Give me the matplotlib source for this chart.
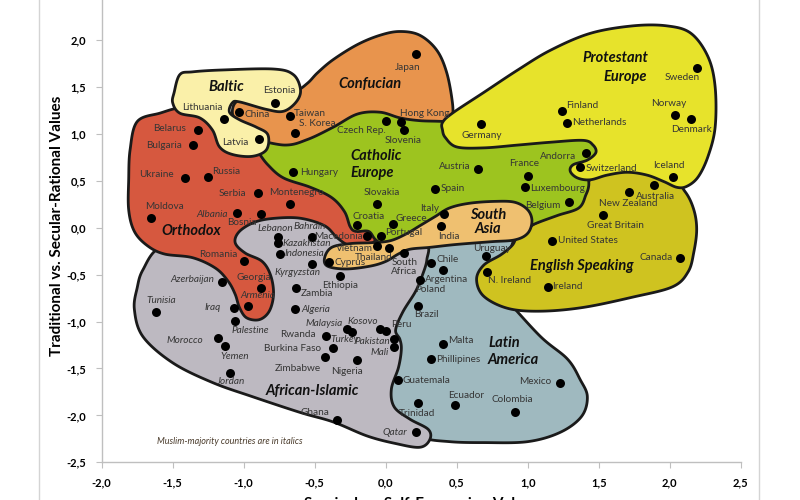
import numpy as np
import matplotlib
matplotlib.use('Agg')
import matplotlib.pyplot as plt
from matplotlib.patches import Polygon
from matplotlib.lines import Line2D
from matplotlib.ticker import FuncFormatter, MultipleLocator

plt.rcParams['font.family'] = ['Lato', 'DejaVu Sans']

# country scores
countries = [
    'Estonia', 'Lithuania', 'China', 'Taiwan', 'S. Korea', 'Latvia', 'Belarus', 'Bulgaria',
    'Ukraine', 'Russia', 'Hungary', 'Czech Rep.', 'Hong Kong', 'Slovenia', 'Japan', 'Germany',
    'Finland', 'Netherlands', 'Sweden', 'Norway', 'Denmark', 'Andorra', 'Switzerland', 'Iceland',
    'Austria', 'France', 'Luxembourg', 'Spain', 'Belgium', 'Australia', 'New Zealand',
    'Great Britain', 'United States', 'Canada', 'Ireland', 'N. Ireland', 'Uruguay', 'Italy',
    'India', 'Greece', 'Croatia', 'Slovakia', 'Portugal', 'Macedonia', 'Vietnam', 'Thailand',
    'South\nAfrica', 'Cyprus', 'Chile', 'Argentina', 'Poland', 'Brazil', 'Peru', 'Kosovo',
    'Malaysia', 'Turkey', 'Pakistan', 'Mali', 'Nigeria', 'Rwanda', 'Burkina Faso', 'Zimbabwe',
    'Ghana', 'Guatemala', 'Trinidad', 'Ecuador', 'Colombia', 'Qatar', 'Malta', 'Phillipines',
    'Mexico', 'Ethiopia', 'Zambia', 'Algeria', 'Kyrgyzstan', 'Indonesia', 'Kazakhstan',
    'Lebanon', 'Bahrain', 'Romania', 'Georgia', 'Armenia', 'Azerbaijan', 'Tunisia', 'Iraq',
    'Palestine', 'Morocco', 'Yemen', 'Jordan', 'Serbia', 'Montenegro', 'Moldova', 'Albania',
    'Bosnia',
]
self_expression = [
    -0.78, -1.14, -1.03, -0.675, -0.64, -0.89, -1.32, -1.36,
    -1.41, -1.25, -0.65, 0.0, 0.11, 0.13, 0.21, 0.67,
    1.24, 1.28, 2.19, 2.04, 2.15, 1.41, 1.37, 2.02,
    0.65, 1.0, 0.98, 0.35, 1.29, 1.89, 1.71,
    1.53, 1.17, 2.07, 1.14, 0.71, 0.705, 0.41,
    0.39, 0.05, -0.20, -0.06, -0.035, -0.13, -0.063, 0.02,
    0.13, -0.40, 0.32, 0.40, 0.24, 0.23, 0.0, -0.04,
    -0.275, -0.236, 0.06, 0.06, -0.205, -0.42, -0.37, -0.43,
    -0.34, 0.085, 0.23, 0.49, 0.91, 0.21, 0.40, 0.32,
    1.23, -0.32, -0.63, -0.64, -0.52, -0.745, -0.76,
    -0.755, -0.52, -1.0, -0.875, -0.97, -1.15, -1.615, -1.07,
    -1.06, -1.18, -1.13, -1.10, -0.90, -0.675, -1.65, -1.05,
    -0.875,
]
secular_rational = [
    1.33, 1.16, 1.23, 1.19, 1.01, 0.94, 1.04, 0.88,
    0.53, 0.54, 0.59, 1.14, 1.13, 1.04, 1.85, 1.10,
    1.245, 1.12, 1.705, 1.195, 1.155, 0.80, 0.645, 0.535,
    0.625, 0.555, 0.43, 0.41, 0.27, 0.45, 0.385,
    0.13, -0.14, -0.32, -0.63, -0.475, -0.305, 0.15,
    0.02, 0.04, 0.025, 0.25, -0.09, -0.09, -0.20, -0.215,
    -0.27, -0.365, -0.38, -0.45, -0.56, -0.83, -1.105, -1.085,
    -1.085, -1.115, -1.19, -1.27, -1.415, -1.155, -1.285, -1.375,
    -2.05, -1.62, -1.865, -1.89, -1.96, -2.18, -1.235, -1.40,
    -1.66, -0.52, -0.645, -0.865, -0.39, -0.28, -0.16,
    -0.095, -0.095, -0.36, -0.64, -0.835, -0.58, -0.90, -0.86,
    -0.99, -1.18, -1.265, -1.545, 0.365, 0.25, 0.10, 0.155,
    0.145,
]
muslim_majority = {
    'Albania', 'Lebanon', 'Kazakhstan', 'Bahrain', 'Indonesia', 'Kyrgyzstan', 'Azerbaijan',
    'Tunisia', 'Iraq', 'Palestine', 'Morocco', 'Yemen', 'Jordan', 'Algeria', 'Malaysia',
    'Turkey', 'Pakistan', 'Mali', 'Qatar', 'Armenia', 'Kosovo',
}

# label placement: offset in pixels (right, down) and alignment
label_pos = {
    'Estonia': (4, -12, 'center'), 'Lithuania': (-21, -11, 'center'), 'China': (5, 2, 'left'),
    'Taiwan': (4, -2, 'left'), 'S. Korea': (4, -9, 'left'), 'Latvia': (-11, 3, 'right'),
    'Belarus': (-12, -2, 'right'), 'Bulgaria': (-11, 0, 'right'), 'Ukraine': (-12, -3, 'right'),
    'Russia': (4, -5, 'left'), 'Hungary': (7, 0, 'left'), 'Czech Rep.': (-24, 10, 'center'),
    'Hong Kong': (-1, -8, 'left'), 'Slovenia': (-1, 10, 'center'), 'Japan': (-8, 13, 'center'),
    'Germany': (1, 11, 'center'), 'Finland': (4, -5, 'left'), 'Netherlands': (5, 0, 'left'),
    'Sweden': (-15, 10, 'center'), 'Norway': (-7, -12, 'center'), 'Denmark': (1, 10, 'center'),
    'Andorra': (-10, 4, 'right'), 'Switzerland': (5, 1, 'left'), 'Iceland': (-4, -12, 'center'),
    'Austria': (-7, -2, 'right'), 'France': (-4, -12, 'center'), 'Luxembourg': (5, 1, 'left'),
    'Spain': (5, -1, 'left'), 'Belgium': (-8, 3, 'right'), 'Australia': (1, 11, 'center'),
    'New Zealand': (0, 12, 'center'), 'Great Britain': (12, 10, 'center'),
    'United States': (6, 0, 'left'), 'Canada': (-7, 0, 'right'), 'Ireland': (5, 0, 'left'),
    'N. Ireland': (1, 8, 'left'), 'Uruguay': (6, -8, 'center'), 'Italy': (-5, -5, 'right'),
    'India': (8, 11, 'center'), 'Greece': (3, -5, 'left'), 'Croatia': (11, -9, 'center'),
    'Slovakia': (5, -12, 'center'), 'Portugal': (4, -4, 'left'), 'Macedonia': (-4, 0, 'right'),
    'Vietnam': (-4, 2, 'right'), 'Thailand': (-15, 10, 'center'), 'South\nAfrica': (0, 14, 'center'),
    'Cyprus': (6, 1, 'left'), 'Chile': (5, -4, 'left'), 'Argentina': (4, 10, 'center'),
    'Poland': (10, 9, 'center'), 'Brazil': (8, 9, 'center'), 'Peru': (5, -7, 'left'),
    'Kosovo': (-17, -8, 'center'), 'Malaysia': (-4, -6, 'right'), 'Turkey': (-8, 7, 'center'),
    'Pakistan': (-4, 2, 'right'), 'Mali': (-5, 6, 'right'), 'Nigeria': (-10, 11, 'center'),
    'Rwanda': (-10, -2, 'right'), 'Burkina Faso': (-12, 0, 'right'), 'Zimbabwe': (-4, 12, 'right'),
    'Ghana': (-22, -8, 'center'), 'Guatemala': (5, 1, 'left'), 'Trinidad': (-1, 11, 'center'),
    'Ecuador': (11, -10, 'center'), 'Colombia': (-3, -12, 'center'), 'Qatar': (-8, 0, 'right'),
    'Malta': (6, -3, 'left'), 'Phillipines': (5, 0, 'left'), 'Mexico': (-9, -2, 'right'),
    'Ethiopia': (0, 9, 'center'), 'Zambia': (4, 5, 'left'), 'Algeria': (7, 1, 'left'),
    'Kyrgyzstan': (-14, 8, 'center'), 'Indonesia': (5, 0, 'left'), 'Kazakhstan': (5, 1, 'left'),
    'Lebanon': (-3, -8, 'center'), 'Bahrain': (-2, -10, 'center'), 'Romania': (-6, -7, 'right'),
    'Georgia': (-8, -10, 'center'), 'Armenia': (10, -11, 'center'), 'Azerbaijan': (-8, -3, 'right'),
    'Tunisia': (5, -12, 'center'), 'Iraq': (-13, -1, 'right'), 'Palestine': (15, 10, 'center'),
    'Morocco': (-15, 2, 'right'), 'Yemen': (9, 10, 'center'), 'Jordan': (1, 9, 'center'),
    'Serbia': (-12, 0, 'right'), 'Montenegro': (7, -12, 'center'), 'Moldova': (13, -12, 'center'),
    'Albania': (-9, 1, 'right'), 'Bosnia': (-20, 8, 'center'),
}

# cultural zone outlines (data units), smoothed below
latin_america = [(0.21, -0.23), (0.52, -0.11), (0.81, -0.09), (0.91, -0.04), (0.84, -0.36),
                 (0.71, -0.55), (0.84, -0.75), (1.09, -1.16), (1.28, -1.40), (1.37, -1.62),
                 (1.42, -1.80), (1.38, -2.01), (1.23, -2.18), (1.00, -2.28), (0.69, -2.29),
                 (0.45, -2.28), (0.24, -2.23), (0.00, -2.04), (-0.04, -1.62), (0.00, -1.19),
                 (0.00, -0.98), (0.10, -0.66)]
african_islamic = [(-1.59, -0.21), (-1.31, -0.13), (-0.96, 0.16), (-0.60, 0.19), (-0.28, 0.14),
                   (-0.15, -0.07), (0.03, -0.18), (0.28, -0.18), (0.29, -0.34), (0.26, -0.50),
                   (0.21, -0.68), (0.12, -0.90), (0.07, -1.09), (0.10, -1.19), (0.11, -1.30),
                   (0.09, -1.49), (0.04, -1.72), (0.06, -1.91), (0.17, -2.04), (0.30, -2.15),
                   (0.31, -2.26), (0.24, -2.34), (0.07, -2.30), (-0.13, -2.22), (-0.37, -2.07),
                   (-0.60, -1.97), (-0.94, -1.80), (-1.22, -1.65), (-1.50, -1.44), (-1.71, -1.16),
                   (-1.77, -0.87), (-1.75, -0.64), (-1.71, -0.45)]
orthodox = [(-1.75, 1.13), (-1.59, 1.22), (-1.42, 1.28), (-1.20, 1.23), (-0.99, 1.04),
            (-0.85, 0.88), (-0.78, 0.72), (-0.64, 0.56), (-0.46, 0.46), (-0.32, 0.32),
            (-0.25, 0.14), (-0.21, 0.0), (-0.12, -0.02), (-0.07, -0.10), (-0.11, -0.18),
            (-0.25, -0.19), (-0.34, -0.11), (-0.43, 0.02), (-0.60, 0.10), (-0.78, 0.10),
            (-0.92, 0.06), (-1.03, -0.04), (-1.06, -0.16), (-0.99, -0.27), (-0.87, -0.36),
            (-0.81, -0.51), (-0.79, -0.71), (-0.82, -0.89), (-0.89, -0.98), (-0.98, -0.96),
            (-1.03, -0.85), (-1.06, -0.71), (-1.11, -0.57), (-1.20, -0.43), (-1.36, -0.32),
            (-1.56, -0.28), (-1.68, -0.19), (-1.77, -0.04), (-1.81, 0.19), (-1.81, 0.51),
            (-1.80, 0.83)]
confucian = [(-1.08, 1.23), (-1.03, 1.36), (-0.82, 1.38), (-0.64, 1.45), (-0.55, 1.54),
             (-0.48, 1.65), (-0.37, 1.79), (-0.20, 1.95), (-0.04, 2.05), (0.10, 2.09),
             (0.24, 2.05), (0.36, 1.89), (0.43, 1.65), (0.47, 1.33), (0.47, 1.15),
             (0.45, 0.99), (0.10, 0.99), (-0.39, 0.88), (-0.74, 0.78), (-0.92, 0.94),
             (-1.03, 1.10)]
english_speaking = [(0.93, -0.09), (1.02, 0.02), (1.30, 0.24), (1.44, 0.51), (1.65, 0.64),
                    (2.00, 0.53), (2.11, 0.38), (2.17, 0.19), (2.19, -0.02), (2.17, -0.26),
                    (2.13, -0.47), (2.02, -0.63), (1.74, -0.74), (1.39, -0.85), (1.09, -0.89),
                    (0.86, -0.86), (0.69, -0.73), (0.64, -0.55), (0.69, -0.40), (0.81, -0.29),
                    (0.89, -0.19)]
catholic_europe = [(-0.96, 0.94), (-0.71, 0.88), (-0.55, 0.94), (-0.37, 1.07), (-0.20, 1.21),
                   (-0.04, 1.23), (0.10, 1.17), (0.24, 1.14), (0.42, 1.13), (0.66, 1.10),
                   (1.02, 1.02), (1.37, 0.99), (1.50, 0.85), (1.48, 0.70), (1.43, 0.60),
                   (1.43, 0.45), (1.41, 0.35), (1.36, 0.21), (1.21, 0.13), (1.05, 0.04),
                   (0.95, -0.04), (0.66, -0.06), (0.38, -0.13), (0.17, -0.19), (0.02, -0.21),
                   (-0.07, -0.13), (-0.12, -0.04), (-0.21, -0.04), (-0.25, 0.01), (-0.29, 0.17),
                   (-0.38, 0.32), (-0.53, 0.43), (-0.72, 0.53), (-0.83, 0.67), (-0.90, 0.81)]
protestant_europe = [(0.40, 1.04), (0.40, 1.12), (0.47, 1.22), (0.69, 1.44), (0.93, 1.68),
                     (1.16, 1.89), (1.44, 2.07), (1.74, 2.15), (1.98, 2.15), (2.15, 2.07),
                     (2.27, 1.82), (2.32, 1.50), (2.32, 1.07), (2.27, 0.76), (2.20, 0.54),
                     (2.12, 0.44), (2.05, 0.43), (1.96, 0.49), (1.84, 0.56), (1.70, 0.59),
                     (1.56, 0.56), (1.44, 0.51), (1.35, 0.53), (1.30, 0.60), (1.32, 0.67),
                     (1.42, 0.72), (1.48, 0.80), (1.46, 0.88), (1.39, 0.93), (1.16, 0.91),
                     (0.93, 0.88), (0.69, 0.85), (0.50, 0.86), (0.42, 0.96)]
baltic = [(-1.49, 1.44), (-1.45, 1.63), (-1.36, 1.66), (-1.15, 1.68), (-0.79, 1.69),
          (-0.65, 1.63), (-0.60, 1.47), (-0.63, 1.34), (-0.72, 1.24), (-0.84, 1.26),
          (-1.03, 1.34), (-1.08, 1.33), (-1.10, 1.23), (-1.03, 1.15), (-0.91, 1.07),
          (-0.83, 0.99), (-0.84, 0.83), (-0.94, 0.76), (-1.08, 0.78), (-1.17, 0.86),
          (-1.22, 1.04), (-1.31, 1.17), (-1.45, 1.22), (-1.50, 1.33)]
south_asia = [(-0.43, -0.32), (-0.38, -0.21), (-0.25, -0.17), (-0.10, -0.16), (0.03, -0.14),
              (0.14, -0.07), (0.24, 0.02), (0.35, 0.12), (0.45, 0.21), (0.59, 0.26),
              (0.77, 0.28), (0.91, 0.27), (1.00, 0.19), (1.03, 0.07), (1.00, -0.06),
              (0.91, -0.13), (0.74, -0.15), (0.49, -0.18), (0.31, -0.21), (0.17, -0.23),
              (0.09, -0.28), (0.00, -0.36), (-0.11, -0.41), (-0.28, -0.44), (-0.41, -0.41)]

# drawing order bottom -> top
zones = [
    (latin_america, '#9fb9bf'),
    (african_islamic, '#bdb9c1'),
    (orthodox, '#d6583f'),
    (confucian, '#e8944d'),
    (english_speaking, '#cfc320'),
    (catholic_europe, '#9dc41f'),
    (protestant_europe, '#e7e32b'),
    (baltic, '#faf0a9'),
    (south_asia, '#efc070'),
]


def smooth(pts, n=16):
    # closed Catmull-Rom curve through the outline points
    p = np.array(pts, float)
    m = len(p)
    t = np.linspace(0, 1, n, endpoint=False)[:, None]
    segs = []
    for i in range(m):
        p0, p1, p2, p3 = p[i - 1], p[i], p[(i + 1) % m], p[(i + 2) % m]
        segs.append(0.5 * (2 * p1 + (-p0 + p2) * t + (2 * p0 - 5 * p1 + 4 * p2 - p3) * t ** 2
                           + (-p0 + 3 * p1 - 3 * p2 + p3) * t ** 3))
    return np.vstack(segs)


fig = plt.figure(figsize=(8, 5), dpi=100)
ax = fig.add_axes([101.7 / 800, 37.7 / 500, 639 / 800, 462.3 / 500])
ax.set_xlim(-2.0, 2.5)
ax.set_ylim(-2.5, 2.0 + 40 / 94)

for i, (outline, col) in enumerate(zones):
    ax.add_patch(Polygon(smooth(outline), closed=True, facecolor=col, edgecolor='#1a1a1a',
                         linewidth=2.0, joinstyle='round', zorder=1 + i * 0.1))

ax.scatter(self_expression, secular_rational, s=42, color='black', zorder=5, linewidths=0)

for name, x, y in zip(countries, self_expression, secular_rational):
    dx, dy, ha = label_pos[name]
    ax.annotate(name, (x, y), xytext=(dx * 0.72, -dy * 0.72), textcoords='offset points',
                ha=ha, va='center', fontsize=7.2, color='#353535', linespacing=0.95,
                style='italic' if name in muslim_majority else 'normal', zorder=6)

zone_kw = dict(fontsize=10.5, fontweight='bold', style='italic', color='#111111', zorder=7)
ax.text(-1.12, 1.50, 'Baltic', ha='center', va='center', **zone_kw)
ax.text(-0.11, 1.53, 'Confucian', ha='center', va='center', **zone_kw)
ax.text(-0.25, 0.67, 'Catholic\nEurope', ha='left', va='center', linespacing=1.25, **zone_kw)
ax.text(1.62, 1.81, 'Protestant', ha='center', va='center', **zone_kw)
ax.text(1.69, 1.61, 'Europe', ha='center', va='center', **zone_kw)
ax.text(-1.37, -0.04, 'Orthodox', ha='center', va='center', **zone_kw)
ax.text(0.72, 0.06, 'South\nAsia', ha='center', va='center', linespacing=0.95, **zone_kw)
ax.text(1.38, -0.41, 'English Speaking', ha='center', va='center', **zone_kw)
ax.text(0.72, -1.32, 'Latin\nAmerica', ha='left', va='center', linespacing=1.25, **zone_kw)
ax.text(-0.52, -1.74, 'African-Islamic', ha='center', va='center', **zone_kw)

ax.text(-1.61, -2.28, 'Muslim-majority countries are in italics', style='italic',
        fontsize=6.5, color='#4a3b2b', va='center', ha='left', zorder=7)

for side in ['top', 'right']:
    ax.spines[side].set_visible(False)
for side in ['left', 'bottom']:
    ax.spines[side].set_color('#bfbfbf')
    ax.spines[side].set_linewidth(1.0)
ax.xaxis.set_major_locator(MultipleLocator(0.5))
ax.yaxis.set_major_locator(MultipleLocator(0.5))
fmt = FuncFormatter(lambda v, pos: f'{v:.1f}'.replace('.', ','))
ax.xaxis.set_major_formatter(fmt)
ax.yaxis.set_major_formatter(fmt)
ax.tick_params(direction='out', length=4, color='#bfbfbf', labelsize=8)
ax.tick_params(axis='y', pad=7)
ax.tick_params(axis='x', pad=7)
for lab in ax.get_xticklabels() + ax.get_yticklabels():
    lab.set_fontweight('bold')

fig.text(57 / 800, 1 - 226 / 500, 'Traditional vs. Secular-Rational Values', rotation=90,
         ha='center', va='center', fontsize=11, fontweight='bold')
fig.text(421 / 800, 3 / 500, 'Survival vs. Self-Expression Values', ha='center', va='top',
         fontsize=11, fontweight='bold')

for xp in (39, 759):
    fig.add_artist(Line2D([xp / 800, xp / 800], [0, 1], color='#d4d4d4', linewidth=1.0))

fig.savefig('out.png', dpi=100)
